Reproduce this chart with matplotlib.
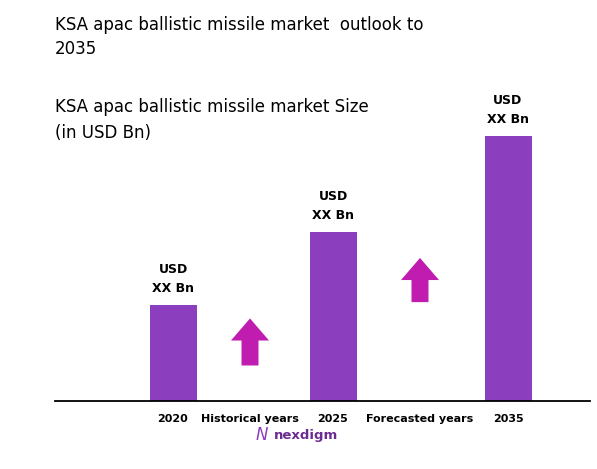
import matplotlib.pyplot as plt
from matplotlib.patches import FancyArrow

years = ['2020', '2025', '2035']
values = [1.0, 1.76, 2.76]
bar_x = [173, 333, 508]
gap_labels = ['Historical years', 'Forecasted years']
gap_x = [250, 420]
arrow_y = [(0.37, 0.86), (1.03, 1.49)]

W, H = 597, 469
fig = plt.figure(figsize=(W / 100, H / 100), dpi=100)
ax = fig.add_axes([55 / W, (H - 401) / H, 535 / W, 301 / H])
ax.bar(bar_x, values, width=47, color='#8b3fbf')
ax.set_xlim(55, 590)
ax.set_ylim(0, 301 / 96)
for s in ['top', 'right', 'left']:
    ax.spines[s].set_visible(False)
ax.spines['bottom'].set_linewidth(1.3)
ax.set_yticks([])
ax.set_xticks(bar_x + gap_x)
ax.set_xticklabels(years + gap_labels, fontsize=8, fontweight='bold')
ax.tick_params(axis='x', length=0, pad=9)

for x, v in zip(bar_x, values):
    ax.text(x, v + 0.1, 'USD\nXX Bn', ha='center', va='bottom',
            fontsize=9, fontweight='bold', linespacing=1.6)

for x, (y0, y1) in zip(gap_x, arrow_y):
    ax.add_patch(FancyArrow(x, y0, 0, y1 - y0, width=17, head_width=38,
                            head_length=0.23, length_includes_head=True,
                            color='#c01cb0', lw=0))

fig.text(55 / W, 1 - 37 / H, 'KSA apac ballistic missile market  outlook to\n2035',
         fontsize=12, va='center', linespacing=1.5)
fig.text(55 / W, 1 - 120 / H, 'KSA apac ballistic missile market Size\n(in USD Bn)',
         fontsize=12, va='center', linespacing=1.5)
fig.text(274 / W, 1 - 435 / H, 'nexdigm', fontsize=9.5, color='#6a2c91',
         fontweight='bold', ha='left', va='center')
fig.text(262 / W, 1 - 435 / H, 'N', fontsize=12, color='#8b3fbf',
         ha='center', va='center', style='italic')

fig.savefig('out.png', dpi=100)
